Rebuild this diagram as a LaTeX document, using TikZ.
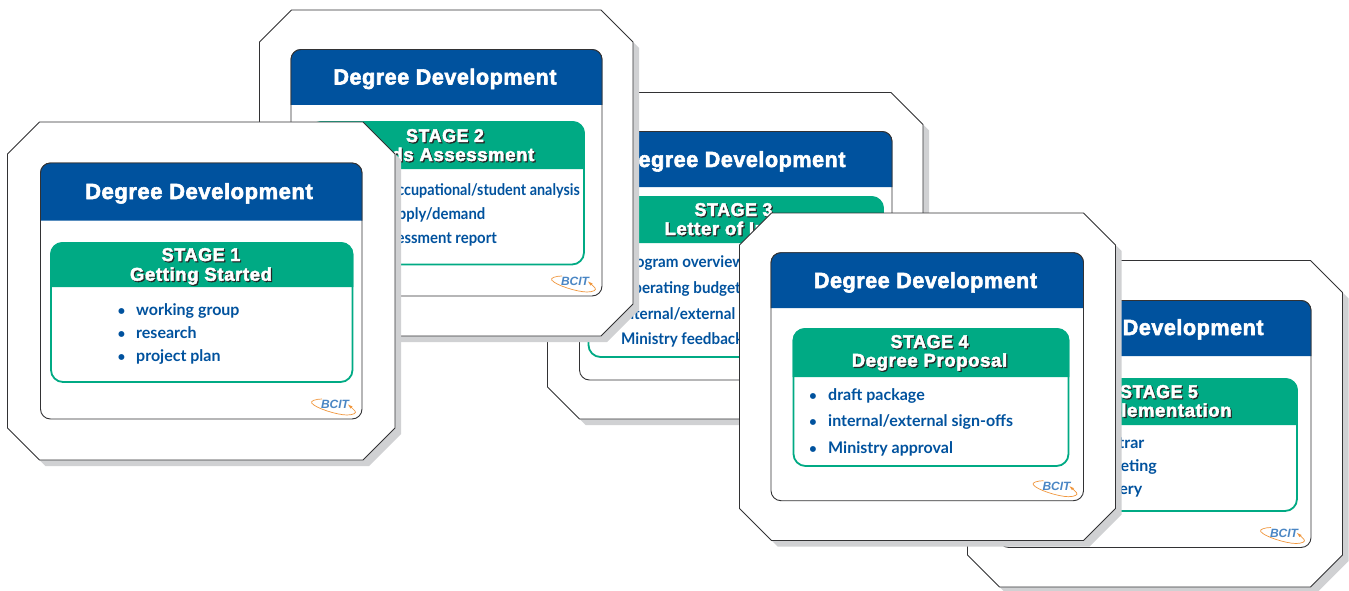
\documentclass[tikz,border=0pt]{standalone}
\usepackage{fontspec}
\usepackage{graphicx}
\usetikzlibrary{arrows.meta}
\setmainfont{Lato}
\newfontfamily\heavyfont[UprightFont=* Bold,FakeBold=2.6,LetterSpace=2.5]{Liberation Sans}
\newfontfamily\stagefont[UprightFont=* Bold,FakeBold=2.6,LetterSpace=3.5]{Liberation Sans}
\newfontfamily\logofont[UprightFont=* Bold,ItalicFont=* Bold Italic]{Liberation Sans}
\newfontfamily\itemfont[UprightFont=* Bold]{Lato}
\definecolor{bcblue}{RGB}{0,82,158}
\definecolor{bcgreen}{RGB}{0,170,132}
\definecolor{bcshadow}{RGB}{208,209,211}
\definecolor{bcline}{RGB}{50,50,52}
\definecolor{bclogo}{RGB}{74,134,196}
\definecolor{bcorange}{RGB}{240,150,60}
\newcommand{\narrowed}[2]{\scalebox{#1}[1]{#2}}
\tikzset{
  x=1pt,y=-1pt,
  outerbox/.style={draw=bcline,line width=0.9pt,fill=white,line join=miter},
  shadowbox/.style={fill=bcshadow},
  innerbox/.style={draw=bcline,line width=0.9pt,rounded corners=10pt},
  bluehead/.style={fill=bcblue,rounded corners=10pt},
  greenframe/.style={draw=bcgreen,line width=1.8pt,fill=white,rounded corners=12pt},
  greenhead/.style={fill=bcgreen,rounded corners=12pt},
  titletext/.style={anchor=base,inner sep=0pt,text=white,font=\heavyfont\fontsize{22}{24}\selectfont},
  stagetext/.style={anchor=base,inner sep=0pt,font=\stagefont\fontsize{18.5}{20}\selectfont},
  itemtext/.style={inner sep=0pt,text=bcblue,font=\itemfont\fontsize{16}{18}\selectfont},
  bullettext/.style={inner sep=0pt,text=bcblue,font=\itemfont\fontsize{13.5}{18}\selectfont},
  logotext/.style={inner sep=0pt,text=bclogo,font=\logofont\itshape\fontsize{12}{12}\selectfont},
}
% outer octagon with its shadow
\newcommand{\cardbox}[4]{%
  \fill[shadowbox,shift={(6,6)}] (#1+32,#2)--(#3-32,#2)--(#3,#2+32)--(#3,#4-32)--(#3-32,#4)--(#1+32,#4)--(#1,#4-32)--(#1,#2+32)--cycle;
  \draw[outerbox] (#1+32,#2)--(#3-32,#2)--(#3,#2+32)--(#3,#4-32)--(#3-32,#4)--(#1+32,#4)--(#1,#4-32)--(#1,#2+32)--cycle;
}
% inner panel: x1 y1 x2 y2 header-bottom name title-x title-baseline title-width-factor
\newcommand{\panelbox}[9]{%
  \draw[innerbox,fill=white] (#1,#2) rectangle (#3,#4);
  \fill[bluehead] (#1,#5)--(#1,#2)--(#3,#2)--(#3,#5);
  \draw[innerbox] (#1,#5)--(#1,#2)--(#3,#2)--(#3,#5);
  \node[titletext] (#6) at (#7,#8) {\narrowed{#9}{Degree Development}};
}
% green panel: x1 y1 x2 y2 header-bottom
\newcommand{\greenbox}[5]{%
  \draw[greenframe] (#1,#2) rectangle (#3,#4);
  \fill[greenhead] (#1-0.9,#5)--(#1-0.9,#2-0.9)--(#3+0.9,#2-0.9)--(#3+0.9,#5);
}
% stage text with hard shadow: name x baseline text
\newcommand{\stageline}[4]{%
  \node[stagetext,text=black!85] (#1s) at (#2+1.2,#3+1.2) {#4};
  \node[stagetext,text=white] (#1) at (#2,#3) {#4};
}
\newcommand{\bulletline}[5]{% name bullet-x text-x baseline text
  \node[bullettext,anchor=base] (#1b) at (#2,#4) {•};
  \node[itemtext,anchor=base west] (#1) at (#3,#4) {#5};
}
% BCIT logo relative to lower right corner of the panel
\newcommand{\logomark}[3]{%
  \begin{scope}[shift={(#2,#3)}]
    \draw[bcorange,line width=0.7pt] (-40,-20) .. controls (-46,-20) and (-52,-18) .. (-50.3,-16) .. controls (-47,-11) and (-25,-4) .. (-15,-4) .. controls (-9,-4) and (-5,-6) .. (-7,-8) -- (-11,-12);
    \fill[bcorange] (-14,-14.5)--(-11.5,-10.5)--(-9.5,-12.5)--cycle;
    \node[logotext] (#1) at (-27,-14.5) {BCIT};
  \end{scope}
}
\begin{document}
\begin{tikzpicture}
\useasboundingbox (0,0) rectangle (1349,591);
% card 5
\cardbox{967.5}{260.5}{1342.5}{587}
\panelbox{999}{300.5}{1311}{547.5}{356}{title5}{1152}{335}{0.98}
\greenbox{1020}{379}{1297}{511}{425}
\stageline{st5a}{1159}{398}{\narrowed{0.96}{STAGE 5}}
\stageline{st5b}{1159}{416.7}{Implementation}
\node[itemtext,anchor=base east] (it5a) at (1144.5,448) {registrar};
\node[itemtext,anchor=base east] (it5b) at (1157,471.5) {marketing};
\node[itemtext,anchor=base east] (it5c) at (1142.5,494.5) {delivery};
\logomark{logo5}{1311}{547.5}
% card 3
\cardbox{547.5}{92.5}{923}{419}
\panelbox{579.5}{131.5}{892}{380}{187}{title3}{734}{167}{0.98}
\greenbox{588.5}{197}{883}{357}{243}
\stageline{st3a}{733.5}{216}{\narrowed{0.96}{STAGE 3}}
\stageline{st3b}{733.5}{235}{Letter of Intent}
\node[itemtext,anchor=base west] (it3a) at (621,267) {\narrowed{0.95}{Program overview}};
\node[itemtext,anchor=base west] (it3b) at (621,293) {\narrowed{0.95}{Operating budget}};
\node[itemtext,anchor=base west] (it3c) at (621,319) {\narrowed{0.95}{Internal/external}};
\node[itemtext,anchor=base west] (it3d) at (621,344) {\narrowed{0.95}{Ministry feedback}};
% card 2
\cardbox{259.5}{10}{633}{336}
\panelbox{291}{49.5}{602}{296}{105}{title2}{445}{84.5}{0.98}
\greenbox{310}{122}{584}{264.5}{169}
\stageline{st2a}{445}{142}{\narrowed{0.96}{STAGE 2}}
\stageline{st2b}{445}{161}{Needs Assessment}
\node[itemtext,anchor=base east] (it2a) at (580,195) {\narrowed{0.9}{occupational/student analysis}};
\node[itemtext,anchor=base east] (it2b) at (485.5,219) {\narrowed{0.93}{supply/demand}};
\node[itemtext,anchor=base east] (it2c) at (497,243) {\narrowed{0.93}{assessment report}};
\logomark{logo2}{602}{296}
% card 1
\cardbox{7.5}{122}{395}{460}
\panelbox{40.5}{163}{362}{419}{220.5}{title1}{199}{199}{1}
\greenbox{51}{243}{352.5}{382}{287}
\stageline{st1a}{201}{261}{\narrowed{0.97}{STAGE 1}}
\stageline{st1b}{201}{280.7}{Getting Started}
\bulletline{it1a}{121.5}{136}{315.7}{working group}
\bulletline{it1b}{121.5}{136}{338.5}{research}
\bulletline{it1c}{121.5}{136}{361.7}{project plan}
\logomark{logo1}{362}{419}
% card 4
\cardbox{739.5}{213}{1115.5}{540.5}
\panelbox{771}{252.7}{1083.5}{500.7}{308}{title4}{925.5}{288}{0.98}
\greenbox{793.5}{329}{1068.5}{466}{377}
\stageline{st4a}{929.5}{348}{\narrowed{0.96}{STAGE 4}}
\stageline{st4b}{929.5}{366.7}{Degree Proposal}
\bulletline{it4a}{813}{828}{400}{draft package}
\bulletline{it4b}{813}{828}{426.5}{internal/external sign-offs}
\bulletline{it4c}{813}{828}{453}{Ministry approval}
\logomark{logo4}{1083.5}{500.7}
\end{tikzpicture}
\end{document}
